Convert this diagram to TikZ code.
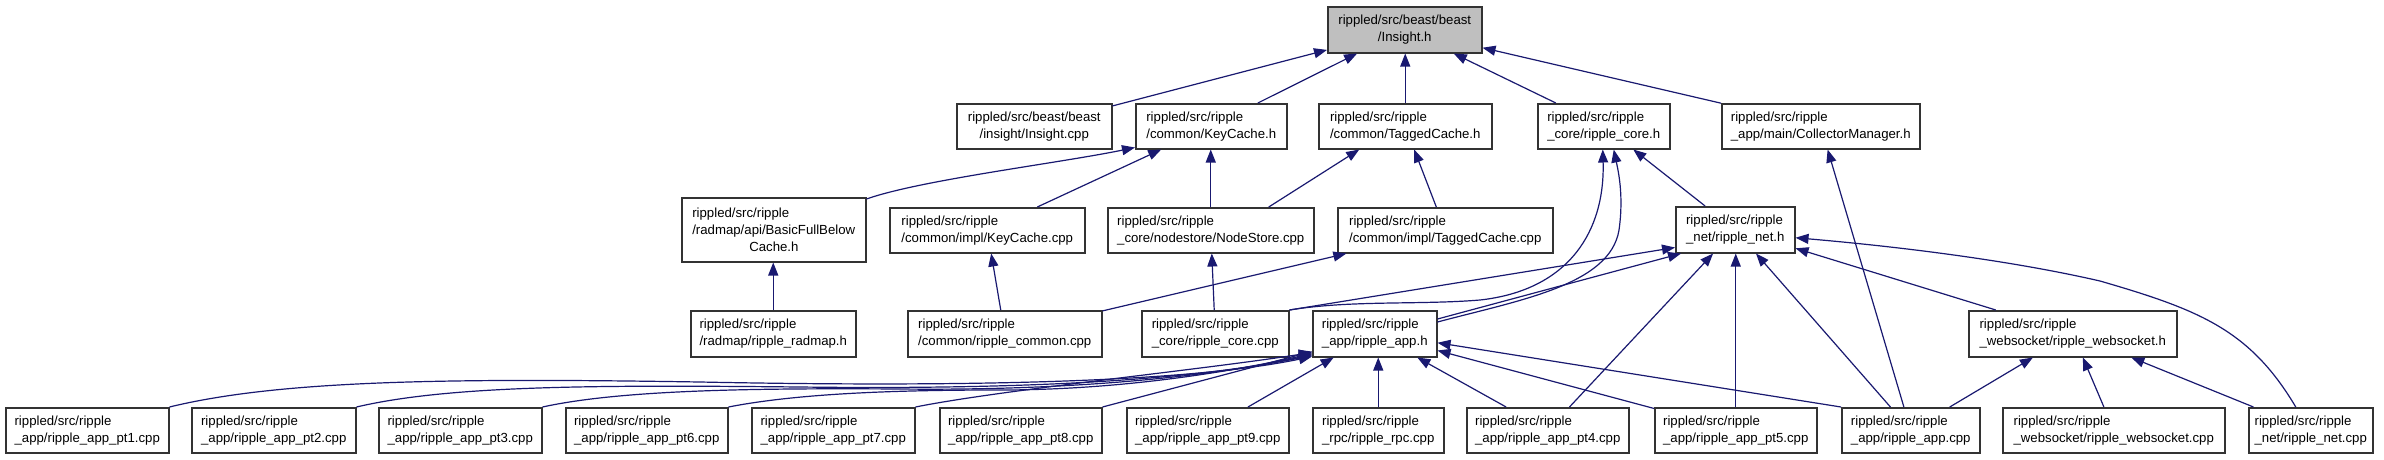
\documentclass[tikz,border=0pt]{standalone}
\usepackage{fontspec}
\newfontfamily\dxfont{Liberation Sans}
\usetikzlibrary{arrows.meta,calc}
\definecolor{dxblue}{HTML}{191970}
\definecolor{dxgray}{HTML}{BFBFBF}
\definecolor{dxline}{HTML}{333333}
\begin{document}
\begin{tikzpicture}[x=1pt,y=-1pt,
  box/.style={draw=dxline, line width=1.5pt, fill=white, anchor=north west, inner xsep=0pt, inner ysep=0pt,
    align=left, text=black, font=\dxfont\fontsize{13.2}{16.7}\selectfont, minimum height=45pt},
  cbox/.style={box, align=center},
  edge/.style={draw=dxblue, line width=1.2pt, -{Triangle[length=13pt,width=10pt]}}]
\useasboundingbox (0,0) rectangle (2384,459);
\fill[white] (0,0) rectangle (2384,459);

% row 1
\node[cbox, fill=dxgray, minimum width=154pt, minimum height=46pt] (ins_h) at (1327,6) {rippled/src/beast/beast\\/Insight.h};
% row 2
\node[cbox, minimum width=155pt] (ins_cpp) at (956,103) {rippled/src/beast/beast\\/insight/Insight.cpp};
\node[box, minimum width=151pt] (kc_h) at (1135,103) {rippled/src/ripple\\/common/KeyCache.h};
\node[box, minimum width=173pt] (tc_h) at (1318,103) {rippled/src/ripple\\/common/TaggedCache.h};
\node[box, minimum width=132pt] (core_h) at (1537,103) {rippled/src/ripple\\\_core/ripple\_core.h};
\node[box, minimum width=198pt] (cm_h) at (1721,103) {rippled/src/ripple\\\_app/main/CollectorManager.h};
% row 3
\node[box, minimum width=184pt, minimum height=64pt] (bfb_h) at (681,197) {rippled/src/ripple\\/radmap/api/BasicFullBelow\\\hspace*{57pt}Cache.h};
\node[box, minimum width=195pt] (kc_cpp) at (889,207) {rippled/src/ripple\\/common/impl/KeyCache.cpp};
\node[box, minimum width=206pt] (ns_cpp) at (1107,207) {rippled/src/ripple\\\_core/nodestore/NodeStore.cpp};
\node[box, minimum width=215pt] (tc_cpp) at (1337,207) {rippled/src/ripple\\/common/impl/TaggedCache.cpp};
\node[box, minimum width=119pt, minimum height=46pt] (net_h) at (1675,206) {rippled/src/ripple\\\_net/ripple\_net.h};
% row 4
\node[box, minimum width=165pt, minimum height=46pt] (radmap_h) at (690,310) {rippled/src/ripple\\/radmap/ripple\_radmap.h};
\node[box, minimum width=194pt, minimum height=46pt] (common_cpp) at (907,310) {rippled/src/ripple\\/common/ripple\_common.cpp};
\node[box, minimum width=147pt, minimum height=46pt] (core_cpp) at (1141,310) {rippled/src/ripple\\\_core/ripple\_core.cpp};
\node[box, minimum width=124pt, minimum height=46pt] (app_h) at (1312,310) {rippled/src/ripple\\\_app/ripple\_app.h};
\node[box, minimum width=208pt, minimum height=46pt] (ws_h) at (1968,310) {rippled/src/ripple\\\_websocket/ripple\_websocket.h};
% row 5
\node[box, minimum width=163pt] (pt1) at (5,407) {rippled/src/ripple\\\_app/ripple\_app\_pt1.cpp};
\node[box, minimum width=164pt] (pt2) at (191,407) {rippled/src/ripple\\\_app/ripple\_app\_pt2.cpp};
\node[box, minimum width=163pt] (pt3) at (378,407) {rippled/src/ripple\\\_app/ripple\_app\_pt3.cpp};
\node[box, minimum width=162pt] (pt6) at (565,407) {rippled/src/ripple\\\_app/ripple\_app\_pt6.cpp};
\node[box, minimum width=163pt] (pt7) at (751,407) {rippled/src/ripple\\\_app/ripple\_app\_pt7.cpp};
\node[box, minimum width=162pt] (pt8) at (939,407) {rippled/src/ripple\\\_app/ripple\_app\_pt8.cpp};
\node[box, minimum width=162pt] (pt9) at (1126,407) {rippled/src/ripple\\\_app/ripple\_app\_pt9.cpp};
\node[box, minimum width=131pt] (rpc) at (1312,407) {rippled/src/ripple\\\_rpc/ripple\_rpc.cpp};
\node[box, minimum width=162pt] (pt4) at (1466,407) {rippled/src/ripple\\\_app/ripple\_app\_pt4.cpp};
\node[box, minimum width=162pt] (pt5) at (1654,407) {rippled/src/ripple\\\_app/ripple\_app\_pt5.cpp};
\node[box, minimum width=138pt] (appcpp) at (1841,407) {rippled/src/ripple\\\_app/ripple\_app.cpp};
\node[box, minimum width=222pt] (wscpp) at (2002,407) {rippled/src/ripple\\\_websocket/ripple\_websocket.cpp};
\node[box, minimum width=124pt] (netcpp) at (2248,407) {rippled/src/ripple\\\_net/ripple\_net.cpp};

% edges into Insight.h
\draw[edge] (ins_cpp) -- (ins_h);
\draw[edge] (kc_h) -- (ins_h);
\draw[edge] (tc_h.north) -- (tc_h.north |- ins_h.south);
\draw[edge] (core_h) -- (ins_h);
\draw[edge] (cm_h) -- (ins_h);
% into KeyCache.h
\draw[edge] ($(bfb_h.north east)+(0,2)$) .. controls (920,180) and (1060,163) .. ($(kc_h.south west)+(0,-2)$);
\draw[edge] (kc_cpp) -- (kc_h);
\draw[edge] (ns_cpp.north) -- (ns_cpp.north |- kc_h.south);
% into TaggedCache.h
\draw[edge] ($(ns_cpp.north)+(58,0)$) -- ($(tc_h.south)+(-46,0)$);
\draw[edge] (tc_cpp) -- (tc_h);
% into ripple_core.h
\draw[edge] (net_h) -- (core_h);
\draw[edge] (core_cpp.north east) .. controls (1350,300) and (1420,305) .. (1480,300)
  .. controls (1570,290) and (1605,230) .. ($(core_h.south)+(-1,0)$);
\draw[edge] ($(app_h.north east)+(0,12)$) .. controls (1520,300) and (1610,285) .. (1619,230)
  .. controls (1624,195) and (1618,170) .. ($(core_h.south)+(10,0)$);
% into CollectorManager.h
\draw[edge] (appcpp) -- (cm_h);
% into BasicFullBelowCache.h
\draw[edge] (radmap_h.north) -- (radmap_h.north |- bfb_h.south);
% into KeyCache.cpp / NodeStore.cpp / TaggedCache.cpp
\draw[edge] (common_cpp) -- (kc_cpp);
\draw[edge] (core_cpp) -- (ns_cpp);
\draw[edge] (common_cpp) -- (tc_cpp);
% into ripple_net.h
\draw[edge] (core_cpp.north east) -- ($(net_h.south west)+(0,-6)$);
\draw[edge] ($(app_h.north east)+(0,9)$) -- ($(net_h.south west)+(6,0)$);
\draw[edge] (pt4) -- (net_h);
\draw[edge] (pt5.north) -- (pt5.north |- net_h.south);
\draw[edge] (appcpp) -- (net_h);
\draw[edge] (ws_h) -- (net_h);
\draw[edge] ($(netcpp.north)+(-15,0)$) .. controls (2250,330) and (2200,310) .. (2100,281)
  .. controls (2000,258) and (1880,245) .. ($(net_h.east)+(0,8)$);
% into ripple_websocket.h
\draw[edge] (appcpp) -- (ws_h);
\draw[edge] (wscpp) -- (ws_h);
\draw[edge] (netcpp) -- (ws_h);
% into ripple_app.h
\draw[edge] (pt1.north east) .. controls (280,380) and (450,378) .. (700,382)
  .. controls (1000,388) and (1200,380) .. ($(app_h.south west)+(0,-1)$);
\draw[edge] (pt2.north east) .. controls (450,385) and (600,385) .. (800,387)
  .. controls (1050,390) and (1200,378) .. ($(app_h.south west)+(0,-2)$);
\draw[edge] (pt3.north east) .. controls (620,390) and (750,388) .. (900,389)
  .. controls (1080,391) and (1220,375) .. ($(app_h.south west)+(0,-3)$);
\draw[edge] (pt6.north east) .. controls (800,393) and (900,390) .. (1000,390)
  .. controls (1120,390) and (1230,372) .. ($(app_h.south west)+(0,-4)$);
\draw[edge] (pt7.north east) .. controls (1000,390) and (1200,370) .. ($(app_h.south west)+(0,-5)$);
\draw[edge] (pt8.north east) -- ($(app_h.south west)+(0,-6)$);
\draw[edge] (pt9) -- (app_h);
\draw[edge] (rpc.north) -- (rpc.north |- app_h.south);
\draw[edge] (pt4) -- (app_h);
\draw[edge] (pt5) -- (app_h);
\draw[edge] (appcpp.north west) -- ($(app_h.east)+(0,9)$);
\end{tikzpicture}
\end{document}
